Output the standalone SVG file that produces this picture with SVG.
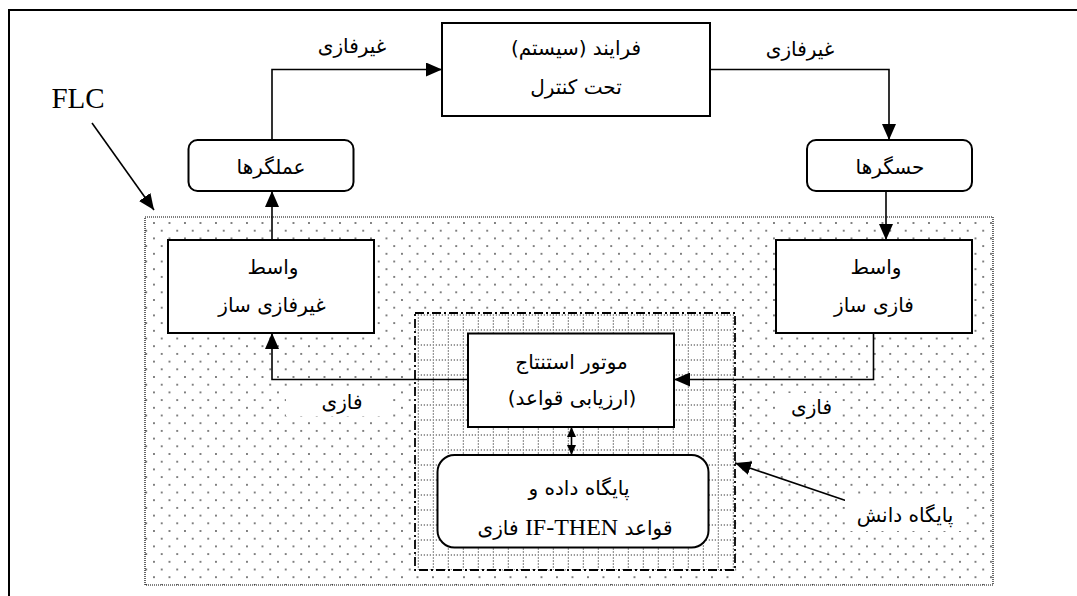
<svg xmlns="http://www.w3.org/2000/svg" width="1077" height="596" viewBox="0 0 1077 596">
<defs>
<style>
.box{fill:#fff;stroke:#000;stroke-width:2}
.ln{fill:none;stroke:#000;stroke-width:1.6}
.fa{font-family:"DejaVu Sans",sans-serif;font-size:20px;fill:#000;text-anchor:middle}
.lat{font-family:"Liberation Serif",serif}
</style>
<pattern id="dots" patternUnits="userSpaceOnUse" x="150.1" y="219.15" width="15.5" height="15.4">
<circle cx="3.875" cy="3.85" r="0.9" fill="#444"/>
<circle cx="11.625" cy="11.55" r="0.9" fill="#444"/>
</pattern>
<pattern id="grid" patternUnits="userSpaceOnUse" x="432.8" y="314.5" width="15" height="15">
<line x1="0" y1="0.5" x2="15" y2="0.5" stroke="#000" stroke-width="1" stroke-dasharray="1 2"/>
<line x1="0.5" y1="0" x2="0.5" y2="15" stroke="#000" stroke-width="1" stroke-dasharray="1 2"/>
</pattern>
<marker id="ah" markerUnits="userSpaceOnUse" markerWidth="16" markerHeight="14" refX="16" refY="7" orient="auto">
<path d="M0,0 L16,7 L0,14 z" fill="#000"/>
</marker>
<marker id="ahs" markerUnits="userSpaceOnUse" markerWidth="10" markerHeight="9" refX="10" refY="4.5" orient="auto-start-reverse">
<path d="M0,0 L10,4.5 L0,9 z" fill="#000"/>
</marker>
</defs>
<rect x="0" y="0" width="1077" height="596" fill="#fff"/>
<rect id="frame" x="9" y="10" width="1100" height="700" fill="none" stroke="#000" stroke-width="2"/>

<g id="flc-region">
<rect x="145" y="217" width="848" height="368" fill="url(#dots)" stroke="#000" stroke-width="1.2" stroke-dasharray="1 1"/>
</g>
<g id="knowledge-base-region">
<rect x="415" y="313" width="320" height="257" fill="#fff"/>
<rect x="415" y="313" width="320" height="257" fill="url(#grid)" stroke="#000" stroke-width="1.8" stroke-dasharray="9 3 2 3"/>
</g>

<g id="connectors">
<polyline class="ln" points="272,191 272,69.5 442,69.5" marker-end="url(#ah)"/>
<polyline class="ln" points="710,69.5 889,69.5 889,140" marker-end="url(#ah)"/>
<line class="ln" x1="886" y1="191" x2="886" y2="240" marker-end="url(#ah)"/>
<line class="ln" x1="272" y1="240" x2="272" y2="191" marker-end="url(#ah)"/>
<polyline class="ln" points="873.5,333 873.5,379.5 674,379.5" marker-end="url(#ah)"/>
<polyline class="ln" points="468,379.5 272,379.5 272,333" marker-end="url(#ah)"/>
<line class="ln" x1="571.5" y1="427" x2="571.5" y2="455" marker-start="url(#ahs)" marker-end="url(#ahs)"/>
<line class="ln" x1="92" y1="123" x2="154" y2="210" marker-end="url(#ah)"/>
<line class="ln" x1="850" y1="502" x2="735" y2="463" marker-end="url(#ah)"/>
</g>

<g id="process">
<rect class="box" x="442" y="23" width="268" height="93"/>
<text class="fa" x="576" y="55" direction="rtl">فرایند (سیستم)</text>
<text class="fa" x="576" y="94" direction="rtl">تحت کنترل</text>
</g>
<g id="actuators">
<rect class="box" x="188.5" y="140" width="165" height="51" rx="9"/>
<text class="fa" x="271" y="174" direction="rtl">عملگرها</text>
</g>
<g id="sensors">
<rect class="box" x="807" y="140" width="165" height="51" rx="9"/>
<text class="fa" x="890" y="174" direction="rtl">حسگرها</text>
</g>
<g id="defuzzifier">
<rect class="box" x="168" y="240" width="206" height="93"/>
<text class="fa" x="273" y="274" direction="rtl">واسط</text>
<text class="fa" x="272" y="312" direction="rtl">غیرفازی ساز</text>
</g>
<g id="fuzzifier">
<rect class="box" x="776" y="240" width="196" height="93"/>
<text class="fa" x="876" y="274" direction="rtl">واسط</text>
<text class="fa" x="874" y="312" direction="rtl">فازی ساز</text>
</g>
<g id="inference">
<rect class="box" x="468" y="333.5" width="206" height="93.5"/>
<text class="fa" x="571.5" y="369" direction="rtl">موتور استنتاج</text>
<text class="fa" x="572" y="405" direction="rtl">(ارزیابی قواعد)</text>
</g>
<g id="database">
<rect class="box" x="437.5" y="455" width="271" height="92.5" rx="17"/>
<text class="fa" x="579" y="495" direction="rtl">پایگاه داده و</text>
<text class="fa" x="575" y="535" direction="rtl">قواعد <tspan class="lat" font-size="24">IF-THEN</tspan> فازی</text>
</g>

<g id="labels">
<text class="fa" x="352" y="53" direction="rtl">غیرفازی</text>
<text class="fa" x="800" y="56" direction="rtl">غیرفازی</text>
<rect x="286" y="386" width="106" height="30" fill="#fff"/>
<text class="fa" x="342" y="409" direction="rtl">فازی</text>
<rect x="778" y="393" width="62" height="27" fill="#fff"/>
<text class="fa" x="811.5" y="414" direction="rtl">فازی</text>
<rect x="845" y="499" width="121" height="32" fill="#fff"/>
<text class="fa" x="905" y="522" direction="rtl">پایگاه دانش</text>
<text x="78" y="108" font-family="Liberation Serif, serif" font-size="29" text-anchor="middle">FLC</text>
</g>
</svg>
